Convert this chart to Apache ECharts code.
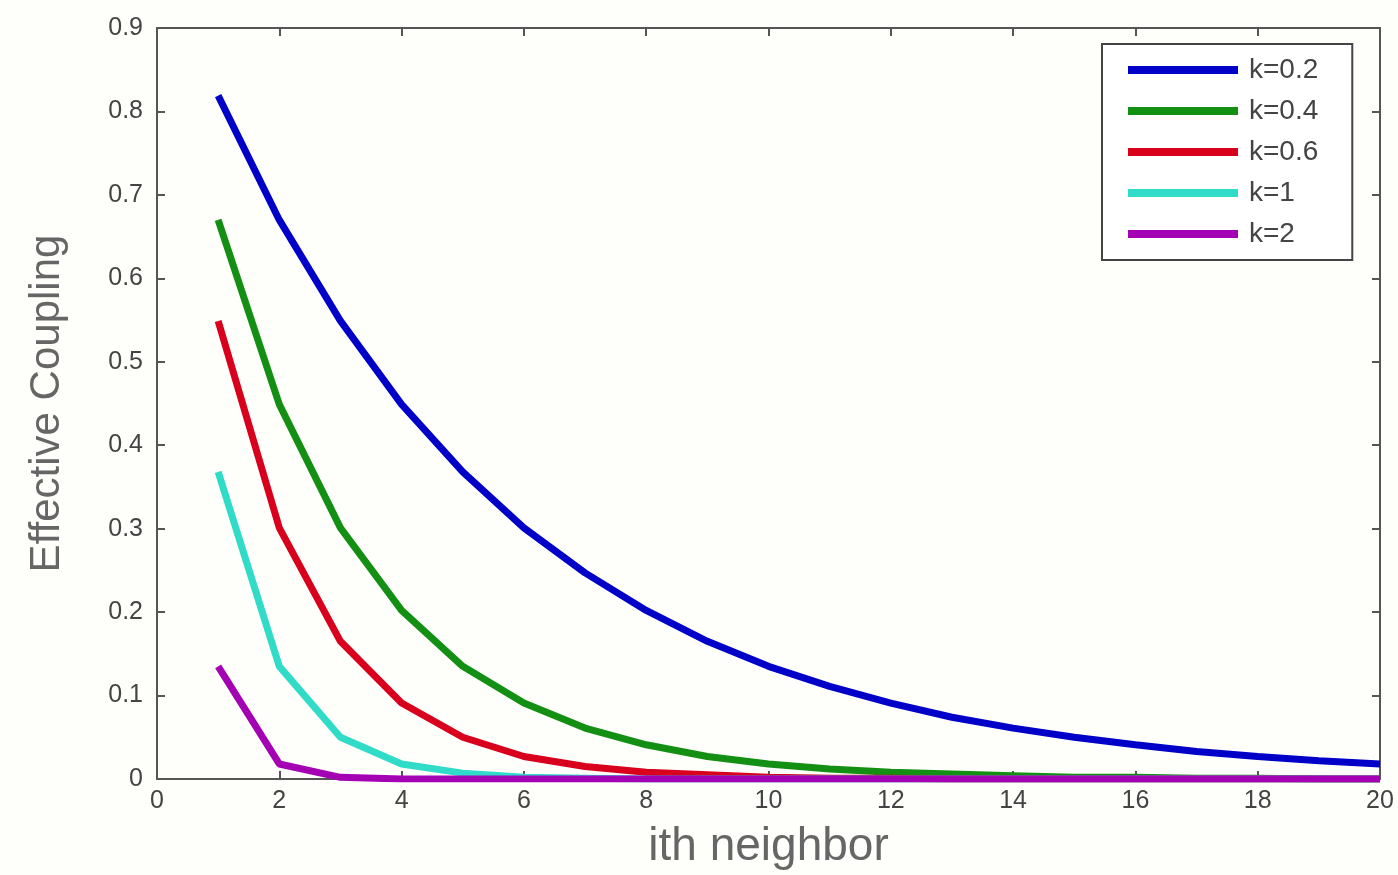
<!DOCTYPE html>
<html>
<head>
<meta charset="utf-8">
<script src="https://cdn.jsdelivr.net/npm/echarts@6/dist/echarts.min.js"></script>
<style>
  html, body { margin: 0; padding: 0; background: #fefefb; }
  #chart { width: 1398px; height: 875px; }
</style>
</head>
<body>
<div id="chart"></div>
<script>
// neighbor index i = 1..20
const neighbors = [1,2,3,4,5,6,7,8,9,10,11,12,13,14,15,16,17,18,19,20];

// effective coupling per neighbor for each k
const couplingK02 = [0.819,0.670,0.549,0.449,0.368,0.301,0.247,0.202,0.165,0.135,0.111,0.091,0.074,0.061,0.050,0.041,0.033,0.027,0.022,0.018];
const couplingK04 = [0.670,0.449,0.301,0.202,0.135,0.091,0.061,0.041,0.027,0.018,0.012,0.008,0.006,0.004,0.002,0.002,0.001,0.001,0.000,0.000];
const couplingK06 = [0.549,0.301,0.165,0.091,0.050,0.027,0.015,0.008,0.005,0.002,0.001,0.001,0.000,0.000,0.000,0.000,0.000,0.000,0.000,0.000];
const couplingK1  = [0.368,0.135,0.050,0.018,0.007,0.002,0.001,0.000,0.000,0.000,0.000,0.000,0.000,0.000,0.000,0.000,0.000,0.000,0.000,0.000];
const couplingK2  = [0.135,0.018,0.002,0.000,0.000,0.000,0.000,0.000,0.000,0.000,0.000,0.000,0.000,0.000,0.000,0.000,0.000,0.000,0.000,0.000];

const seriesNames = ['k=0.2', 'k=0.4', 'k=0.6', 'k=1', 'k=2'];
const seriesValues = [couplingK02, couplingK04, couplingK06, couplingK1, couplingK2];
const seriesColors = ['#0000c8', '#139013', '#d8001c', '#30dcc8', '#a400b4'];

const xTitle = 'ith neighbor';
const yTitle = 'Effective Coupling';

const fontFamily = 'Liberation Sans, Arial, sans-serif';
const axisColor = '#555';
const labelFont = { color: '#444', fontSize: 25, fontFamily: fontFamily };

const chart = echarts.init(document.getElementById('chart'));

const baseAxis = {
  axisLine: { show: true, onZero: false, lineStyle: { color: axisColor, width: 2 } },
  axisTick: { show: true, inside: true, length: 8, lineStyle: { color: axisColor, width: 2 } },
  splitLine: { show: false }
};

chart.setOption({
  backgroundColor: '#fefefb',
  animation: false,
  grid: { left: 157, right: 18, top: 28, bottom: 93, containLabel: false },
  legend: {
    orient: 'vertical',
    left: 1102,
    top: 44,
    padding: [12, 34, 12, 26],
    itemGap: 13,
    itemWidth: 110,
    itemHeight: 8,
    icon: 'rect',
    borderColor: '#444',
    borderWidth: 2,
    backgroundColor: '#ffffff',
    textStyle: { color: '#444', fontSize: 28, fontFamily: fontFamily, padding: [0, 0, 0, 6] },
    data: seriesNames
  },
  xAxis: [
    Object.assign({}, baseAxis, {
      type: 'value', position: 'bottom', min: 0, max: 20, interval: 2,
      name: xTitle, nameLocation: 'middle', nameGap: 45,
      nameTextStyle: { color: '#666', fontSize: 46, fontFamily: fontFamily },
      axisLabel: Object.assign({ margin: 10 }, labelFont)
    }),
    Object.assign({}, baseAxis, {
      type: 'value', position: 'top', min: 0, max: 20, interval: 2,
      axisLabel: { show: false }
    })
  ],
  yAxis: [
    Object.assign({}, baseAxis, {
      type: 'value', position: 'left', min: 0, max: 0.9, interval: 0.1,
      name: yTitle, nameLocation: 'middle', nameGap: 89,
      nameTextStyle: { color: '#666', fontSize: 42, fontFamily: fontFamily },
      axisLabel: Object.assign({ margin: 14, formatter: v => (v === 0 ? '0' : v.toFixed(1)) }, labelFont)
    }),
    Object.assign({}, baseAxis, {
      type: 'value', position: 'right', min: 0, max: 0.9, interval: 0.1,
      axisLabel: { show: false }
    })
  ],
  series: seriesNames.map((name, idx) => ({
    name: name,
    type: 'line',
    xAxisIndex: 0,
    yAxisIndex: 0,
    showSymbol: false,
    symbol: 'none',
    z: 3 + idx,
    itemStyle: { color: seriesColors[idx] },
    lineStyle: { color: seriesColors[idx], width: 7 },
    data: neighbors.map((n, i) => [n, seriesValues[idx][i]])
  }))
});
</script>
</body>
</html>
